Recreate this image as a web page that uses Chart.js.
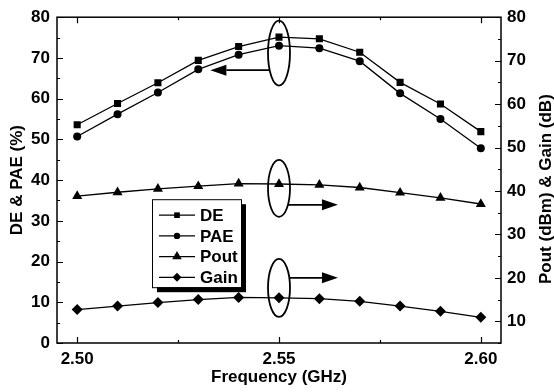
<!DOCTYPE html>
<html>
<head>
<meta charset="utf-8">
<script src="https://cdn.jsdelivr.net/npm/chart.js@4.4.1/dist/chart.umd.min.js"></script>
<style>
  html, body { margin: 0; padding: 0; background: #fff; }
  #wrap { width: 554px; height: 392px; }
</style>
</head>
<body>
<div id="wrap"><canvas id="chart" width="554" height="392"></canvas></div>
<script>
// frequency sweep (GHz)
const freq = [2.50, 2.51, 2.52, 2.53, 2.54, 2.55, 2.56, 2.57, 2.58, 2.59, 2.60];
// left axis (%)
const de  = [53.6, 58.8, 63.9, 69.4, 72.8, 75.1, 74.7, 71.4, 64.0, 58.7, 51.9];
const pae = [50.7, 56.2, 61.5, 67.2, 70.8, 73.0, 72.4, 69.2, 61.3, 55.0, 47.8];
// right axis (dBm / dB)
const pout = [38.8, 39.7, 40.5, 41.1, 41.7, 41.6, 41.4, 40.8, 39.6, 38.4, 37.0];
const gain = [12.7, 13.5, 14.3, 15.0, 15.5, 15.4, 15.2, 14.6, 13.5, 12.3, 10.9];

const xTicks = [2.50, 2.525, 2.55, 2.575, 2.60];
const leftTicks = [0, 5, 10, 15, 20, 25, 30, 35, 40, 45, 50, 55, 60, 65, 70, 75, 80];
const rightTicks = [5, 10, 15, 20, 25, 30, 35, 40, 45, 50, 55, 60, 65, 70, 75, 80];

const FONT = 'Arial, "Liberation Sans", sans-serif';
Chart.defaults.font.family = FONT;
Chart.defaults.font.size = 17;
Chart.defaults.font.weight = 'bold';
Chart.defaults.color = '#000';

const pts = (ys) => freq.map((f, i) => ({x: f, y: ys[i]}));

function series(label, ys, axis, style, radius) {
    return {
        label: label,
        data: pts(ys),
        yAxisID: axis,
        borderColor: '#000',
        backgroundColor: '#000',
        borderWidth: 1.3,
        pointStyle: style,
        pointRadius: radius,
        pointBorderWidth: 0,
        pointBackgroundColor: '#000',
        tension: 0
    };
}

// ellipses around the curves and the arrows pointing to their axis
const callouts = [
    {x: 2.55, y: 71.2, axis: 'y',  rx: 11, ry: 32.5, ax: 67.0, toX: 2.533},
    {x: 2.55, y: 40.6, axis: 'y2', rx: 11, ry: 28.5, ax: 36.8, toX: 2.5646},
    {x: 2.55, y: 17.7, axis: 'y2', rx: 11, ry: 29,   ax: 20.0, toX: 2.5646}
];

function drawMarker(ctx, style, x, y, r) {
    ctx.beginPath();
    if (style === 'rect') {
        const s = r * Math.SQRT1_2;
        ctx.rect(x - s, y - s, 2 * s, 2 * s);
    } else if (style === 'circle') {
        ctx.arc(x, y, r, 0, Math.PI * 2);
    } else if (style === 'triangle') {
        ctx.moveTo(x, y - r);
        ctx.lineTo(x + r * 0.866, y + r * 0.5);
        ctx.lineTo(x - r * 0.866, y + r * 0.5);
        ctx.closePath();
    } else if (style === 'rectRot') {
        ctx.moveTo(x, y - r);
        ctx.lineTo(x + r, y);
        ctx.lineTo(x, y + r);
        ctx.lineTo(x - r, y);
        ctx.closePath();
    }
    ctx.fill();
}

const decor = {
    id: 'decor',
    afterDraw(chart) {
        const ctx = chart.ctx;
        const a = chart.chartArea;
        const sx = chart.scales.x, sy = chart.scales.y, sy2 = chart.scales.y2;
        ctx.save();
        ctx.strokeStyle = '#000';
        ctx.fillStyle = '#000';

        // frame
        ctx.lineWidth = 1.5;
        ctx.strokeRect(a.left, a.top, a.right - a.left, a.bottom - a.top);

        // inward ticks
        ctx.lineWidth = 1.2;
        ctx.beginPath();
        xTicks.forEach(v => {
            const px = Math.round(sx.getPixelForValue(v)) + 0.5;
            const len = Math.abs(v * 20 - Math.round(v * 20)) < 1e-6 ? 6 : 3;
            ctx.moveTo(px, a.bottom); ctx.lineTo(px, a.bottom - len);
            ctx.moveTo(px, a.top); ctx.lineTo(px, a.top + len);
        });
        leftTicks.forEach(v => {
            const py = Math.round(sy.getPixelForValue(v)) + 0.5;
            const len = v % 10 === 0 ? 6 : 3;
            ctx.moveTo(a.left, py); ctx.lineTo(a.left + len, py);
        });
        rightTicks.forEach(v => {
            const py = Math.round(sy2.getPixelForValue(v)) + 0.5;
            const len = v % 10 === 0 ? 6 : 3;
            ctx.moveTo(a.right, py); ctx.lineTo(a.right - len, py);
        });
        ctx.stroke();

        // ellipses and arrows
        ctx.lineWidth = 1.8;
        callouts.forEach(c => {
            const sc = chart.scales[c.axis];
            const cx = sx.getPixelForValue(c.x);
            const cy = sc.getPixelForValue(c.y);
            ctx.beginPath();
            ctx.ellipse(cx, cy, c.rx, c.ry, 0, 0, Math.PI * 2);
            ctx.stroke();
            const ay = sc.getPixelForValue(c.ax);
            const tx = sx.getPixelForValue(c.toX);
            const dir = tx < cx ? -1 : 1;
            const dx = Math.sqrt(Math.max(0, 1 - Math.pow((ay - cy) / c.ry, 2))) * c.rx;
            const startX = cx + dir * dx;
            const head = 16;
            ctx.beginPath();
            ctx.moveTo(startX, ay);
            ctx.lineTo(tx - dir * head, ay);
            ctx.stroke();
            ctx.beginPath();
            ctx.moveTo(tx, ay);
            ctx.lineTo(tx - dir * head, ay - 5.5);
            ctx.lineTo(tx - dir * head, ay + 5.5);
            ctx.closePath();
            ctx.fill();
        });

        // legend box with shadow
        const lx = a.left + 95, ly = a.top + 182, lw = 89, lh = 88;
        ctx.fillRect(lx + 5, ly + 5, lw, lh);
        ctx.fillStyle = '#fff';
        ctx.fillRect(lx, ly, lw, lh);
        ctx.fillStyle = '#000';
        ctx.lineWidth = 1;
        ctx.strokeRect(lx + 0.5, ly + 0.5, lw, lh);
        const legendR = {rect: 4, circle: 3.2, triangle: 5.5, rectRot: 4.5};
        ctx.font = 'bold 17px ' + FONT;
        ctx.textBaseline = 'middle';
        ctx.textAlign = 'left';
        chart.data.datasets.forEach((ds, i) => {
            const ry = ly + 16 + i * 20.7;
            ctx.lineWidth = 1.3;
            ctx.beginPath();
            ctx.moveTo(lx + 7, ry); ctx.lineTo(lx + 43, ry);
            ctx.stroke();
            drawMarker(ctx, ds.pointStyle, lx + 25, ry, legendR[ds.pointStyle]);
            ctx.fillText(ds.label, lx + 48, ry + 1);
        });

        // right axis title, reading bottom to top
        ctx.save();
        ctx.translate(546, (a.top + a.bottom) / 2 + 9);
        ctx.rotate(-Math.PI / 2);
        ctx.textAlign = 'center';
        ctx.textBaseline = 'middle';
        ctx.fillText('Pout (dBm) & Gain (dB)', 0, 0);
        ctx.restore();

        ctx.restore();
    }
};

new Chart(document.getElementById('chart').getContext('2d'), {
    type: 'line',
    data: {
        datasets: [
            series('DE', de, 'y', 'rect', 5),
            series('PAE', pae, 'y', 'circle', 4),
            series('Pout', pout, 'y2', 'triangle', 5.8),
            series('Gain', gain, 'y2', 'rectRot', 5.5)
        ]
    },
    options: {
        responsive: false,
        animation: false,
        devicePixelRatio: 1,
        layout: {padding: {top: 13, left: 0, right: 0, bottom: 0}},
        plugins: {
            legend: {display: false},
            tooltip: {enabled: false}
        },
        scales: {
            x: {
                type: 'linear',
                min: 2.495,
                max: 2.605,
                afterBuildTicks: s => { s.ticks = xTicks.map(v => ({value: v})); },
                afterFit: s => { s.height = 49; },
                grid: {display: false, drawTicks: false},
                border: {display: false},
                ticks: {
                    padding: 6,
                    autoSkip: false,
                    maxRotation: 0,
                    callback: v => Math.abs(v * 20 - Math.round(v * 20)) < 1e-6 ? v.toFixed(2) : ''
                },
                title: {
                    display: true,
                    text: 'Frequency (GHz)',
                    font: {size: 17, weight: 'bold'},
                    padding: {top: 0, bottom: 4}
                }
            },
            y: {
                position: 'left',
                min: 0,
                max: 80,
                afterBuildTicks: s => { s.ticks = leftTicks.map(v => ({value: v})); },
                afterFit: s => { s.width = 57; },
                grid: {display: false, drawTicks: false},
                border: {display: false},
                ticks: {
                    padding: 7,
                    autoSkip: false,
                    callback: v => v % 10 === 0 ? String(v) : ''
                },
                title: {
                    display: true,
                    text: 'DE & PAE (%)',
                    font: {size: 17, weight: 'bold'},
                    padding: {top: 7, bottom: 0}
                }
            },
            y2: {
                position: 'right',
                min: 5,
                max: 80,
                afterBuildTicks: s => { s.ticks = rightTicks.map(v => ({value: v})); },
                afterFit: s => { s.width = 53; },
                grid: {display: false, drawTicks: false},
                border: {display: false},
                ticks: {
                    padding: 6,
                    autoSkip: false,
                    callback: v => v % 10 === 0 ? String(v) : ''
                }
            }
        }
    },
    plugins: [decor]
});
</script>
</body>
</html>
